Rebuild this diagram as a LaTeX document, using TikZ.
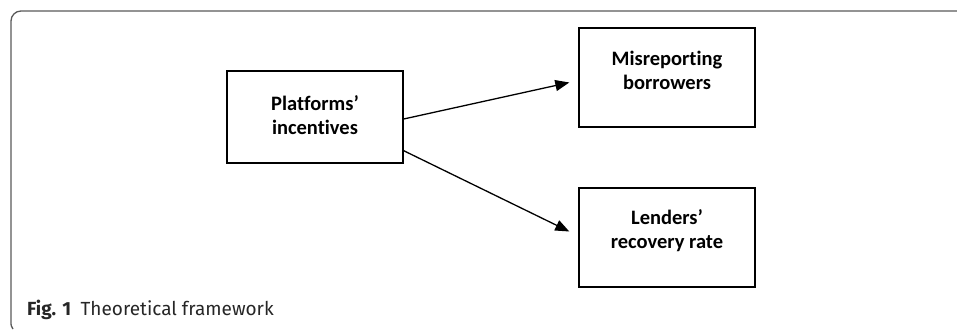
\documentclass[tikz,border=0pt]{standalone}
\usepackage{fontspec}
\setmainfont[Ligatures=NoCommon]{Carlito}
\newfontfamily\capfont{Fira Sans}
\usetikzlibrary{arrows.meta,calc}
\begin{document}
\begin{tikzpicture}[x=1pt,y=1pt,
  box/.style={draw=black,line width=1.4pt,minimum width=176pt,inner sep=0pt},
  lbl/.style={font=\fontsize{20.5}{24}\selectfont\bfseries,align=center,text=black},
  conn/.style={line width=1.3pt,-{Triangle[length=14pt,width=11pt]}},
  frame/.style={draw=black!65,line width=1.3pt}]
\useasboundingbox (0,0) rectangle (957,329);
% frame
\draw[frame] (13,0) .. controls (11,3) .. (11,8) -- (11,308) arc[start angle=180,end angle=90,radius=10] -- (957,318);
% boxes
\node[box,minimum height=92pt] (p) at (315,212) {};
\node[box,minimum height=99pt] (m) at (667,251.5) {};
\node[box,minimum height=99pt] (l) at (667,91.5) {};
\node[lbl] (pt) at ([yshift=2pt]p.center) {Platforms’\\incentives};
\node[lbl] (mt) at ([yshift=7pt]m.center) {Misreporting\\borrowers};
\node[lbl] (lt) at ([yshift=7pt]l.center) {Lenders’\\recovery rate};
% connectors
\draw[conn] ([yshift=-2pt]p.east) -- ([shift={(-9pt,-5pt)}]m.west);
\draw[conn] ([yshift=13pt]p.south east) -- ([shift={(-9pt,6pt)}]l.west);
% caption
\node[anchor=base west,inner sep=0pt,font=\capfont\fontsize{19}{21}\selectfont,text=black!85] (cap) at (27,14) {\textbf{Fig. 1}\hspace{0.5em}Theoretical framework};
\end{tikzpicture}
\end{document}
